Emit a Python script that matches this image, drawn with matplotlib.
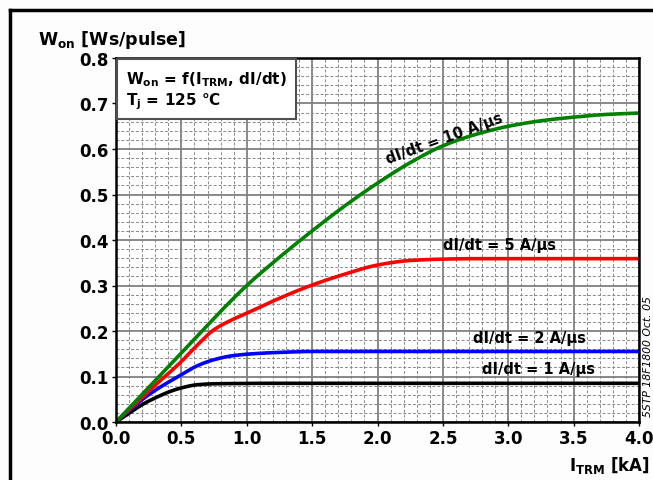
import numpy as np
import matplotlib
matplotlib.use("Agg")
import matplotlib.pyplot as plt
from matplotlib.lines import Line2D
from matplotlib.patches import Rectangle
from matplotlib.ticker import MultipleLocator

plt.rcParams["font.family"] = ["DejaVu Sans"]
plt.rcParams["mathtext.fontset"] = "dejavusans"

# ── data ──────────────────────────────────────────────────────────────────────
i_trm = [0.0, 0.25, 0.5, 0.625, 0.75, 0.875, 1.0, 1.25, 1.5, 1.75, 2.0, 2.25,
         2.5, 2.75, 3.0, 3.25, 3.5, 3.75, 4.0]
w_10 = [0.0, 0.076, 0.152, 0.190, 0.228, 0.265, 0.300, 0.362, 0.420, 0.475,
        0.525, 0.570, 0.607, 0.632, 0.650, 0.662, 0.670, 0.676, 0.679]
w_5 = [0.0, 0.068, 0.133, 0.170, 0.203, 0.223, 0.239, 0.272, 0.301, 0.325,
       0.345, 0.355, 0.358, 0.359, 0.359, 0.359, 0.359, 0.359, 0.359]
w_2 = [0.0, 0.060, 0.104, 0.124, 0.137, 0.145, 0.149, 0.153, 0.155, 0.155,
       0.155, 0.155, 0.155, 0.155, 0.155, 0.155, 0.155, 0.155, 0.155]
w_1 = [0.0, 0.046, 0.075, 0.082, 0.084, 0.0845, 0.085, 0.085, 0.085, 0.085,
       0.085, 0.085, 0.085, 0.085, 0.085, 0.085, 0.085, 0.085, 0.085]

curves = [(w_10, "#008000"), (w_5, "#ff0000"), (w_2, "#0000ff"), (w_1, "#000000")]

# ── smooth interpolation helper (monotone cubic) ──────────────────────────────
def pchip(x, y, xn):
    x = np.asarray(x, float); y = np.asarray(y, float)
    h = np.diff(x); d = np.diff(y) / h
    m = np.zeros_like(y)
    for k in range(1, len(x) - 1):
        if d[k-1] * d[k] > 0:
            w1 = 2*h[k] + h[k-1]; w2 = h[k] + 2*h[k-1]
            m[k] = (w1 + w2) / (w1/d[k-1] + w2/d[k])
    m[0] = d[0]; m[-1] = d[-1]
    idx = np.clip(np.searchsorted(x, xn) - 1, 0, len(h) - 1)
    t = (xn - x[idx]) / h[idx]
    h00 = 2*t**3 - 3*t**2 + 1; h10 = t**3 - 2*t**2 + t
    h01 = -2*t**3 + 3*t**2;    h11 = t**3 - t**2
    return h00*y[idx] + h10*h[idx]*m[idx] + h01*y[idx+1] + h11*h[idx]*m[idx+1]

fig = plt.figure(figsize=(6.53, 4.81), dpi=100, facecolor="#fdfdfd")
ax = fig.add_axes([116/653, 1-423/481, (639-116)/653, (423-59)/481])
ax.set_facecolor("white")

xs = np.linspace(0, 4, 400)
for w, col in curves[::-1]:
    ax.plot(xs, pchip(i_trm, w, xs), color=col, lw=2.6, solid_capstyle="butt")

ax.set_xlim(0, 4.0); ax.set_ylim(0, 0.8)
ax.xaxis.set_minor_locator(MultipleLocator(0.1))
ax.yaxis.set_minor_locator(MultipleLocator(0.02))
ax.grid(which="major", color="#808080", lw=1.3, ls="-")
ax.grid(which="minor", color="#8a8a8a", lw=0.7, ls=(0, (3, 2)))
ax.set_axisbelow(True)
for s in ax.spines.values():
    s.set_color("black"); s.set_linewidth(1.8)
ax.tick_params(which="major", length=3, width=1, labelsize=12, pad=2)
ax.tick_params(which="minor", length=0)
xt = np.arange(0, 4.01, 0.5); yt = np.arange(0, 0.81, 0.1)
ax.set_xticks(xt); ax.set_yticks(yt)
ax.set_xticklabels([f"{v:.1f}" for v in xt], fontweight="bold")
ax.set_yticklabels([f"{v:.1f}" for v in yt], fontweight="bold")

# curve labels
lbl = dict(fontsize=10.5, fontweight="bold", ha="center", va="center")
ax.text(2.51, 0.624, "dI/dt = 10 A/µs", rotation=20, **lbl)
ax.text(2.93, 0.391, "dI/dt = 5 A/µs", **lbl)
ax.text(3.16, 0.186, "dI/dt = 2 A/µs", **lbl)
ax.text(3.23, 0.118, "dI/dt = 1 A/µs", **lbl)

# condition box
ax.add_patch(Rectangle((0.002, 0.832), 0.342, 0.166, transform=ax.transAxes,
                       fc="white", ec="#505050", lw=1.5, zorder=5))
box = dict(fontsize=11, fontweight="bold", ha="left", va="baseline",
           transform=ax.transAxes, zorder=6)
ax.text(0.019, 0.930, "W$_{\\mathbf{on}}$ = f(I$_{\\mathbf{TRM}}$, dI/dt)", **box)
ax.text(0.019, 0.872, "T$_{\\mathbf{j}}$ = 125 °C", **box)

# axis titles
fig.text(38/653, 1-40/481, "W$_{\\mathbf{on}}$ [Ws/pulse]", fontsize=12.5,
         fontweight="bold", ha="left", va="center")
fig.text(569/653, 1-466/481, "I$_{\\mathbf{TRM}}$ [kA]", fontsize=12,
         fontweight="bold", ha="left", va="center")

# datasheet id
fig.text(648/653, 1-357/481, "5STP 18F1800 Oct. 05", fontsize=7.8,
         style="italic", rotation=90, ha="center", va="center")

# outer page frame
fig.add_artist(Line2D([10/653, 1], [1-11/481, 1-11/481], color="black", lw=2.5,
                      transform=fig.transFigure))
fig.add_artist(Line2D([10/653, 10/653], [0, 1-11/481], color="black", lw=2.5,
                      transform=fig.transFigure))

fig.savefig("out.png", dpi=100, facecolor=fig.get_facecolor())
